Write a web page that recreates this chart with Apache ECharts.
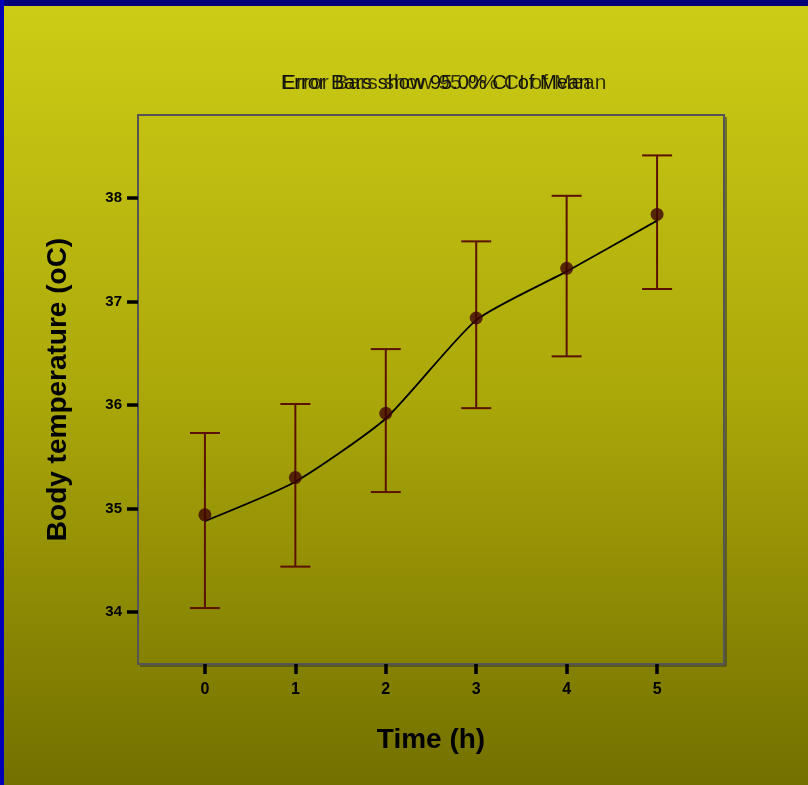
<!DOCTYPE html>
<html>
<head>
<meta charset="utf-8">
<script src="https://cdn.jsdelivr.net/npm/echarts@6/dist/echarts.min.js"></script>
<style>
  html, body { margin: 0; padding: 0; background: #000080; }
  #chart { width: 808px; height: 785px; }
</style>
</head>
<body>
<div id="chart"></div>
<script>
// time points (h)
const timePoints = [0, 1, 2, 3, 4, 5]
// mean body temperature
const meanTemp = [34.94, 35.30, 35.92, 36.84, 37.32, 37.84]
// 95% CI bounds
const ciLower = [34.04, 34.44, 35.16, 35.97, 36.47, 37.12]
const ciUpper = [35.73, 36.01, 36.54, 37.58, 38.02, 38.41]
// fitted line drawn through the means
const lineTemp = [34.88, 35.26, 35.87, 36.82, 37.29, 37.78]
const yTicks = [34, 35, 36, 37, 38]

const chart = echarts.init(document.getElementById('chart'))

const errData = timePoints.map((t, i) => [t, ciLower[i], ciUpper[i]])
const titleText = 'Error Bars show 95.0% CI of Mean'
const font = 'Liberation Sans, Arial, sans-serif'

chart.setOption({
  backgroundColor: {
    type: 'linear', x: 0, y: 0, x2: 0, y2: 1,
    colorStops: [
      { offset: 0, color: '#cdcd16' },
      { offset: 0.5, color: '#aba80a' },
      { offset: 1, color: '#737000' }
    ]
  },
  animation: false,
  graphic: [
    { type: 'rect', left: 0, top: 0, shape: { width: 808, height: 6 }, style: { fill: '#000078' } },
    { type: 'rect', left: 0, top: 0, shape: { width: 4, height: 785 }, style: { fill: '#0000b4' } },
    // the title is printed twice, slightly out of register, as in the source
    { type: 'text', x: 282, y: 83, style: { text: titleText, font: '21px ' + font, fill: 'rgba(0,0,0,0.75)', verticalAlign: 'middle' } },
    { type: 'text', x: 281, y: 83, style: { text: titleText, font: '20px ' + font, fill: '#111', verticalAlign: 'middle' } },
    // faint drop shadow on the right and bottom of the plot frame
    { type: 'line', shape: { x1: 726, y1: 117, x2: 726, y2: 666 }, style: { stroke: 'rgba(60,60,40,0.6)', lineWidth: 2 } },
    { type: 'line', shape: { x1: 140, y1: 666, x2: 726, y2: 666 }, style: { stroke: 'rgba(60,60,40,0.6)', lineWidth: 2 } }
  ],
  grid: {
    left: 138, top: 115, width: 586, height: 549,
    show: true, borderColor: '#555', borderWidth: 2, backgroundColor: 'transparent'
  },
  xAxis: {
    type: 'value',
    min: -0.74,
    max: 5.74,
    name: 'Time (h)',
    nameLocation: 'middle',
    nameGap: 62,
    nameTextStyle: { fontFamily: font, fontSize: 28, fontWeight: 'bold', color: '#000' },
    splitLine: { show: false },
    axisLine: { show: true, onZero: false, lineStyle: { color: '#555', width: 2 } },
    axisTick: { show: true, length: 10, lineStyle: { color: '#000', width: 3.5 }, customValues: timePoints },
    axisLabel: {
      customValues: timePoints, margin: 18,
      fontFamily: font, fontSize: 16, fontWeight: 'bold', color: '#000'
    }
  },
  yAxis: {
    type: 'value',
    min: 33.5,
    max: 38.8,
    name: 'Body temperature (oC)',
    nameLocation: 'middle',
    nameGap: 66,
    nameTextStyle: { fontFamily: font, fontSize: 28, fontWeight: 'bold', color: '#000' },
    splitLine: { show: false },
    axisLine: { show: true, onZero: false, lineStyle: { color: '#555', width: 2 } },
    axisTick: { show: true, length: 11, lineStyle: { color: '#000', width: 3.5 }, customValues: yTicks },
    axisLabel: {
      customValues: yTicks, margin: 16,
      fontFamily: font, fontSize: 15, fontWeight: 'bold', color: '#000'
    }
  },
  series: [
    {
      type: 'custom',
      data: errData,
      z: 3,
      renderItem: function (params, api) {
        const x = api.value(0)
        const lo = api.coord([x, api.value(1)])
        const hi = api.coord([x, api.value(2)])
        const half = 15
        const style = { stroke: '#5a1106', lineWidth: 2 }
        return {
          type: 'group',
          children: [
            { type: 'line', shape: { x1: lo[0], y1: lo[1], x2: hi[0], y2: hi[1] }, style: style },
            { type: 'line', shape: { x1: lo[0] - half, y1: lo[1], x2: lo[0] + half, y2: lo[1] }, style: style },
            { type: 'line', shape: { x1: hi[0] - half, y1: hi[1], x2: hi[0] + half, y2: hi[1] }, style: style }
          ]
        }
      }
    },
    {
      type: 'line',
      data: timePoints.map((t, i) => [t, lineTemp[i]]),
      smooth: 0.2,
      symbol: 'none',
      z: 4,
      lineStyle: { color: '#000', width: 1.8 }
    },
    {
      type: 'scatter',
      data: timePoints.map((t, i) => [t, meanTemp[i]]),
      symbol: 'circle',
      symbolSize: 13,
      z: 5,
      itemStyle: { color: '#3e0404' }
    }
  ]
})
</script>
</body>
</html>
